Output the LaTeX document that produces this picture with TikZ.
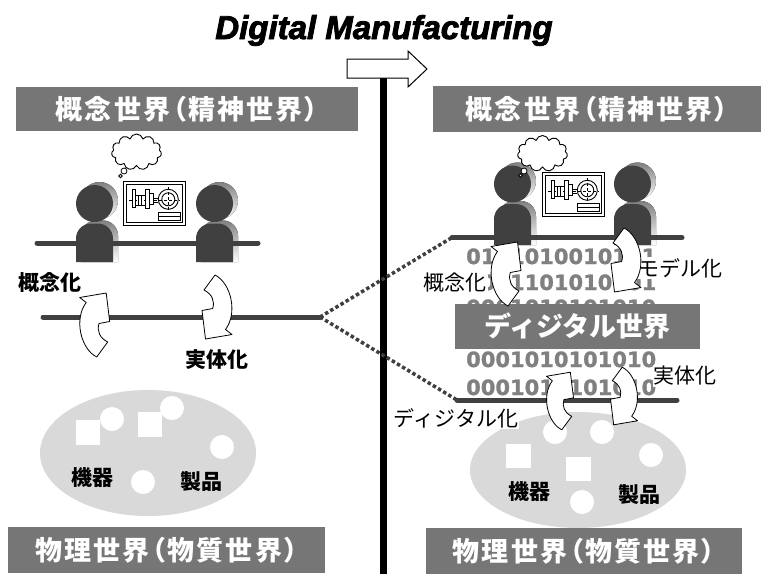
\documentclass[tikz,border=0pt]{standalone}
\usepackage{fontspec}
\setmainfont{Liberation Sans}
\newfontfamily\jp{Noto Sans CJK JP}
\newfontfamily\jpwide{Noto Sans CJK JP}[RawFeature=+palt, LetterSpace=8]
\newfontfamily\titlefont{Liberation Sans}
\newfontfamily\bitfont{DejaVu Sans}[BoldFeatures={FakeBold=1.2}]
\usetikzlibrary{shapes.symbols}

\definecolor{ink}{HTML}{404040}
\definecolor{shade}{HTML}{D0D0D0}
\definecolor{bannergray}{HTML}{767676}
\definecolor{ellgray}{HTML}{D9D9D9}
\definecolor{bitgray}{HTML}{808080}

\tikzset{
  banner/.style={fill=bannergray, text=white, inner sep=0pt,
    font=\jpwide\bfseries\fontsize{27}{30}\selectfont},
  digbanner/.style={fill=bannergray, text=white, inner sep=0pt,
    font=\jp\bfseries\fontsize{27}{30}\selectfont},
  lab/.style={font=\jp\fontsize{21}{24}\selectfont, inner sep=1pt},
  labb/.style={font=\jp\bfseries\fontsize{21}{24}\selectfont, inner sep=1pt},
  labw/.style={lab, fill=white},
  bits/.style={font=\bitfont\bfseries\fontsize{21}{21}\selectfont, text=bitgray,
    inner sep=0pt, anchor=base west},
  bar/.style={draw=ink, line width=5pt, line cap=round},
  dotline/.style={draw=ink, line width=3.5pt, dash pattern=on 3.5pt off 2.5pt},
  curlstyle/.style={draw=black, fill=white, line width=0.8pt, line join=round},
  curl/.pic={
    \draw[curlstyle] (11.5,-32) -- (15,-3.5) -- (4.3,-1.5)
      .. controls (2,6) and (5,13) .. (13,17) -- (2,32)
      .. controls (-14,24) and (-21,-6) .. (-8.5,-22.5)
      -- (-15,-27.5) -- cycle;
  },
  monitor/.pic={
    \draw[line width=0.9pt, fill=white] (0,0) rectangle (62,44);
    \draw[line width=0.9pt] (3,3) rectangle (59,41);
    \draw[line width=0.5pt, densely dashed] (6,19) -- (57,19);
    \draw[line width=0.8pt, fill=white] (9.3,8.3) rectangle (12.7,26.3);
    \draw[line width=0.8pt] (12.7,14) -- (22,14) (12.7,24) -- (22,24);
    \draw[line width=0.8pt, fill=white] (15,14) rectangle (18,24);
    \draw[line width=0.8pt, fill=white] (22,8) rectangle (26.3,27);
    \draw[line width=0.8pt, fill=white] (26.3,12) rectangle (30.3,23);
    \draw[line width=0.8pt] (30.3,17) -- (35.3,17) (30.3,21) -- (35.3,21);
    \draw[line width=0.9pt] (45.3,18.3) circle[radius=10];
    \draw[line width=0.9pt] (45.3,18.3) circle[radius=6.5];
    \draw[line width=0.5pt, densely dashed] (45.3,6) -- (45.3,30);
    \draw[line width=0.8pt] (35.3,31.7) rectangle (57,39.7);
    \draw[line width=0.8pt] (35.3,35.7) -- (57,35.7);
  },
  thought/.style={cloud, draw, fill=white, cloud puffs=11, aspect=1.5,
    minimum width=50pt, minimum height=36pt, line width=0.9pt, inner sep=0pt}
}

% figure with a soft shadow behind it: x, head centre y, body bottom y
\newcommand\figshadow[3]{%
  \fill[shade] (#1+5,#2-3) circle[radius=18.5];
  \fill[shade] (#1-13.5,#3) -- (#1-13.5,#2+32)
    arc[start angle=180,end angle=270,radius=15] -- (#1+8.5,#2+17)
    arc[start angle=270,end angle=360,radius=15] -- (#1+23.5,#3) -- cycle;
}
\newcommand\figbody[3]{%
  \fill[ink] (#1,#2) circle[radius=18.5];
  \fill[ink] (#1-18.5,#3) -- (#1-18.5,#2+35)
    arc[start angle=180,end angle=270,radius=15] -- (#1+3.5,#2+20)
    arc[start angle=270,end angle=360,radius=15] -- (#1+18.5,#3) -- cycle;
}

\begin{document}
\begin{tikzpicture}[x=1pt,y=-1pt]
\useasboundingbox (0,0) rectangle (768,574);
\fill[white] (0,0) rectangle (768,574);

% ---- heading and divider ----
\node[anchor=base, inner sep=0pt,
  font=\titlefont\bfseries\itshape\addfontfeature{FakeBold=2.5}\fontsize{33}{33}\selectfont]
  (title) at (384,39) {Digital Manufacturing};
\coordinate (divtop) at (383.5,78);
\coordinate (divbot) at (383.5,574);
\draw[line width=7pt] (divtop) -- (divbot);
\draw[line width=1pt, fill=white, line join=miter]
  (347,59) -- (408,59) -- (408,51) -- (427,69) -- (408,87) -- (408,78) -- (347,78) -- cycle;

% ---- left half: physical world ----
\fill[ellgray] (148,453) ellipse [x radius=108, y radius=63];
\fill[white] (76,420) rectangle (100,445);
\fill[white] (138,412) rectangle (162,437);
\fill[white] (112,419) circle[radius=12];
\fill[white] (172,408) circle[radius=12];
\fill[white] (222,447) circle[radius=12];
\fill[white] (143,482) circle[radius=12];
\node[labb] (devL) at (92,478) {機器};
\node[labb] (prodL) at (201,482) {製品};

% ---- left half: people at the table ----
\figshadow{94.5}{203.5}{262}
\figshadow{214.5}{203.5}{262}
\coordinate (tabL-w) at (37,243);
\coordinate (tabL-e) at (258,243);
\draw[bar] (tabL-w) -- (tabL-e);
\figbody{94.5}{203.5}{262}
\figbody{214.5}{203.5}{262}
\pic at (123,181) {monitor};
\node[thought] (thinkL) at (136.5,152) {};
\draw[fill=white, line width=0.8pt] (124,171) circle[radius=3];
\draw[fill=white, line width=0.8pt] (120.5,176) circle[radius=1.8];

% ---- left half: boundary line and transitions ----
\coordinate (midL-w) at (43,317);
\coordinate (midL-e) at (320,317);
\draw[bar] (midL-w) -- (midL-e);
\pic at (94.7,325) {curl};
\pic[rotate=180] at (217,307) {curl};
\node[labb] (conceptL) at (50,283) {概念化};
\node[labb] (realizeL) at (217,360) {実体化};

% ---- right half: bars and links ----
\coordinate (tabR-w) at (452,237.5);
\coordinate (tabR-e) at (682,237.5);
\coordinate (digR-w) at (457,400);
\coordinate (digR-e) at (677,400);
\draw[dotline] (midL-e) -- (tabR-w);
\draw[dotline] (midL-e) -- (digR-w);

% ---- right half: physical world ----
\fill[ellgray] (578,470) ellipse [x radius=108, y radius=58];
\fill[white] (506,444) rectangle (531,468);
\fill[white] (566,457) rectangle (591,481);
\fill[white] (555,432) circle[radius=12];
\fill[white] (602,432) circle[radius=12];
\fill[white] (651,455) circle[radius=12];
\fill[white] (582,502) circle[radius=12];
\node[labb] (devR) at (529,492) {機器};
\node[labb] (prodR) at (639,495) {製品};

% ---- right half: digital layer ----
\node[bits] (bitsA) at (466,264) {0101010010101};
\node[bits] (bitsB) at (466,290) {0001101010101};
\node[bits] (bitsC) at (466,315) {0001010101010};
\node[bits] (bitsD) at (466,367) {0001010101010};
\node[bits] (bitsE) at (466,395) {0001010101010};
\node[digbanner, minimum width=245pt, minimum height=45pt] (digital) at (577.5,326.5) {ディジタル世界};

% ---- right half: people at the table ----
\figshadow{512.5}{184}{245}
\figshadow{632.5}{184}{245}
\draw[bar] (tabR-w) -- (tabR-e);
\figbody{512.5}{184}{245}
\figbody{632.5}{184}{245}
\pic at (542,172) {monitor};
\node[thought] (thinkR) at (542.5,153.5) {};
\draw[fill=white, line width=0.8pt] (524,171) circle[radius=3];
\draw[fill=white, line width=0.8pt] (520.5,175.5) circle[radius=1.8];

\draw[bar] (digR-w) -- (digR-e);

% ---- right half: labels and transitions ----
\node[labw] (conceptR) at (455,283) {概念化};
\node[labw] (modelR) at (680,268) {モデル化};
\node[labw] (digitizeR) at (456,418) {ディジタル化};
\node[labw] (realizeR) at (685,376) {実体化};
\pic at (506,274) {curl};
\pic[rotate=180] at (626,260) {curl};
\pic[scale=0.9] at (560,401) {curl};
\pic[rotate=180, scale=0.9] at (624,396) {curl};

% ---- world banners ----
\node[banner, minimum width=342pt, minimum height=44pt] (mindL) at (187,109) {概念世界（精神世界）};
\node[banner, minimum width=328pt, minimum height=46pt] (mindR) at (597,109) {概念世界（精神世界）};
\node[banner, minimum width=317pt, minimum height=46pt] (physL) at (166.5,550) {物理世界（物質世界）};
\node[banner, minimum width=316pt, minimum height=46pt] (physR) at (584,551) {物理世界（物質世界）};
\end{tikzpicture}
\end{document}
